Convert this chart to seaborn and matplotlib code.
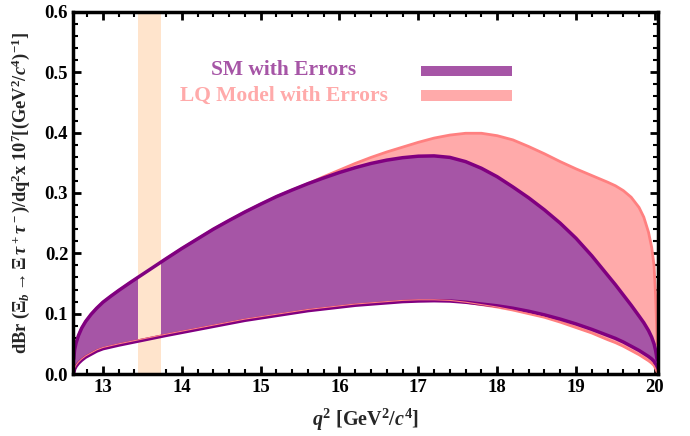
import numpy as np
import pandas as pd
import matplotlib
matplotlib.use("Agg")
import matplotlib.pyplot as plt
from matplotlib.patches import Rectangle
from matplotlib.ticker import MultipleLocator, FormatStrFormatter
import seaborn as sns

# q^2 grid [GeV^2/c^4]
q2 = [12.63, 12.64, 12.66, 12.69, 12.73, 12.78, 12.85, 12.92, 13.00, 13.10,
      13.20, 13.35, 13.50, 13.65, 13.80, 14.00, 14.20, 14.40, 14.60, 14.80,
      15.00, 15.20, 15.40, 15.60, 15.80, 16.00, 16.20, 16.40, 16.60, 16.80,
      17.00, 17.20, 17.40, 17.60, 17.80, 18.00, 18.20, 18.40, 18.60, 18.80,
      19.00, 19.20, 19.40, 19.50, 19.60, 19.70, 19.80, 19.86, 19.92, 19.96,
      19.99, 20.01, 20.03]

# Standard Model band (upper / lower edge)
sm_upper = [0.025, 0.040, 0.052, 0.064, 0.076, 0.087, 0.099, 0.109, 0.119, 0.129,
            0.1385, 0.152, 0.165, 0.178, 0.191, 0.208, 0.224, 0.240, 0.2545, 0.2685,
            0.2815, 0.294, 0.305, 0.3155, 0.325, 0.334, 0.342, 0.349, 0.3545, 0.3585,
            0.361, 0.3615, 0.359, 0.352, 0.341, 0.327, 0.310, 0.292, 0.272, 0.250,
            0.225, 0.196, 0.164, 0.148, 0.131, 0.114, 0.096, 0.085, 0.072, 0.061,
            0.050, 0.039, 0.023]
sm_lower = [0.002, 0.008, 0.013, 0.018, 0.023, 0.028, 0.033, 0.038, 0.042, 0.045,
            0.048, 0.052, 0.056, 0.060, 0.064, 0.069, 0.074, 0.079, 0.084, 0.089,
            0.093, 0.097, 0.101, 0.105, 0.108, 0.111, 0.114, 0.116, 0.118, 0.120,
            0.121, 0.1215, 0.121, 0.119, 0.116, 0.113, 0.109, 0.104, 0.098, 0.091,
            0.083, 0.074, 0.064, 0.059, 0.053, 0.046, 0.039, 0.034, 0.029, 0.025,
            0.021, 0.016, 0.009]

# Leptoquark model band (upper / lower edge)
lq_upper = [0.025, 0.040, 0.052, 0.064, 0.076, 0.087, 0.099, 0.109, 0.119, 0.129,
            0.1385, 0.152, 0.165, 0.178, 0.191, 0.208, 0.224, 0.240, 0.2545, 0.2685,
            0.2815, 0.294, 0.305, 0.3155, 0.327, 0.338, 0.349, 0.359, 0.368, 0.376,
            0.384, 0.391, 0.396, 0.399, 0.399, 0.395, 0.388, 0.377, 0.365, 0.352,
            0.340, 0.329, 0.318, 0.312, 0.304, 0.293, 0.276, 0.260, 0.235, 0.210,
            0.180, 0.130, 0.050]
lq_lower = [0.004, 0.010, 0.015, 0.020, 0.025, 0.030, 0.035, 0.040, 0.044, 0.047,
            0.050, 0.054, 0.058, 0.062, 0.066, 0.071, 0.076, 0.081, 0.086, 0.091,
            0.095, 0.099, 0.103, 0.107, 0.110, 0.113, 0.116, 0.118, 0.120, 0.122,
            0.123, 0.123, 0.122, 0.119, 0.115, 0.111, 0.106, 0.100, 0.094, 0.086,
            0.077, 0.068, 0.057, 0.052, 0.046, 0.039, 0.032, 0.027, 0.022, 0.018,
            0.014, 0.009, 0.003]

# excluded resonance window
veto = [13.44, 13.73]

x_ticks = [13, 14, 15, 16, 17, 18, 19, 20]
legend_labels = ["SM with Errors", "LQ Model with Errors"]

SM_LINE, SM_FILL = "#800080", "#A655A6"
LQ_LINE, LQ_FILL = "#FF8080", "#FFAAAA"
VETO = "#FFE4CC"

sns.set_theme(style="ticks")
plt.rcParams["font.family"] = ["Liberation Serif", "DejaVu Serif"]
plt.rcParams["font.weight"] = "bold"
plt.rcParams["mathtext.fontset"] = "custom"
plt.rcParams["mathtext.rm"] = "Liberation Serif:bold"
plt.rcParams["mathtext.it"] = "Liberation Serif:bold:italic"
plt.rcParams["mathtext.bf"] = "Liberation Serif:bold"

df = pd.DataFrame({"q2": q2, "sm_upper": sm_upper, "sm_lower": sm_lower,
                   "lq_upper": lq_upper, "lq_lower": lq_lower})

fig = plt.figure(figsize=(6.9, 4.36), dpi=100)
ax = fig.add_axes([0.1058, 0.1422, 0.8478, 0.8303])

# LQ band
ax.fill_between(df["q2"], df["lq_lower"], df["lq_upper"], color=LQ_FILL, lw=0, zorder=1)
sns.lineplot(data=df, x="q2", y="lq_upper", color=LQ_LINE, lw=2.0, ax=ax, zorder=2)
sns.lineplot(data=df, x="q2", y="lq_lower", color=LQ_LINE, lw=2.0, ax=ax, zorder=2)

# SM band
ax.fill_between(df["q2"], df["sm_lower"], df["sm_upper"], color=SM_FILL, lw=0, zorder=3)
ax.axvspan(veto[0], veto[1], color=VETO, lw=0, zorder=4)
sns.lineplot(data=df, x="q2", y="sm_upper", color=SM_LINE, lw=2.5, ax=ax, zorder=5)
sns.lineplot(data=df, x="q2", y="sm_lower", color=SM_LINE, lw=2.5, ax=ax, zorder=5)
ax.plot(df["q2"], df["lq_lower"], color=LQ_LINE, lw=0.8, zorder=6)

ax.set_xlim(12.62, 20.04)
ax.set_ylim(0, 0.6)
ax.set_xticks(x_ticks)
ax.xaxis.set_minor_locator(MultipleLocator(0.2))
ax.yaxis.set_major_locator(MultipleLocator(0.1))
ax.yaxis.set_minor_locator(MultipleLocator(0.02))
ax.yaxis.set_major_formatter(FormatStrFormatter("%.1f"))
ax.tick_params(which="both", direction="in", top=True, right=True, colors="black",
               labelsize=13.5)
ax.tick_params(which="major", length=6, width=2)
ax.tick_params(which="minor", length=3.5, width=1.5)
for lab in ax.get_xticklabels() + ax.get_yticklabels():
    lab.set_fontweight("bold")
for s in ax.spines.values():
    s.set_linewidth(2.5)
    s.set_color("black")
    s.set_zorder(10)

ax.set_xlabel(r"$q^2$ [GeV$^2$/$c^4$]", fontsize=14.5, fontweight="bold", labelpad=8)
ax.set_ylabel(r"dBr $(\Xi_b\rightarrow\Xi\,\tau^+\tau^-)$/dq$^2$x 10$^7$[(GeV$^2$/$c^4$)$^{-1}$]",
              fontsize=13.2, fontweight="bold", labelpad=9)

# legend: labels on the left, colour bars on the right
ax.text(0.36, 0.84, legend_labels[0], transform=ax.transAxes, ha="center", va="center",
        color=SM_FILL, fontsize=15.5, fontweight="bold", zorder=7)
ax.text(0.36, 0.768, legend_labels[1], transform=ax.transAxes, ha="center", va="center",
        color=LQ_FILL, fontsize=15.5, fontweight="bold", zorder=7)
ax.add_patch(Rectangle((0.595, 0.823), 0.156, 0.028, transform=ax.transAxes,
                       color=SM_FILL, lw=0, zorder=7))
ax.add_patch(Rectangle((0.595, 0.754), 0.156, 0.030, transform=ax.transAxes,
                       color=LQ_FILL, lw=0, zorder=7))

fig.savefig("out.png", dpi=100)
